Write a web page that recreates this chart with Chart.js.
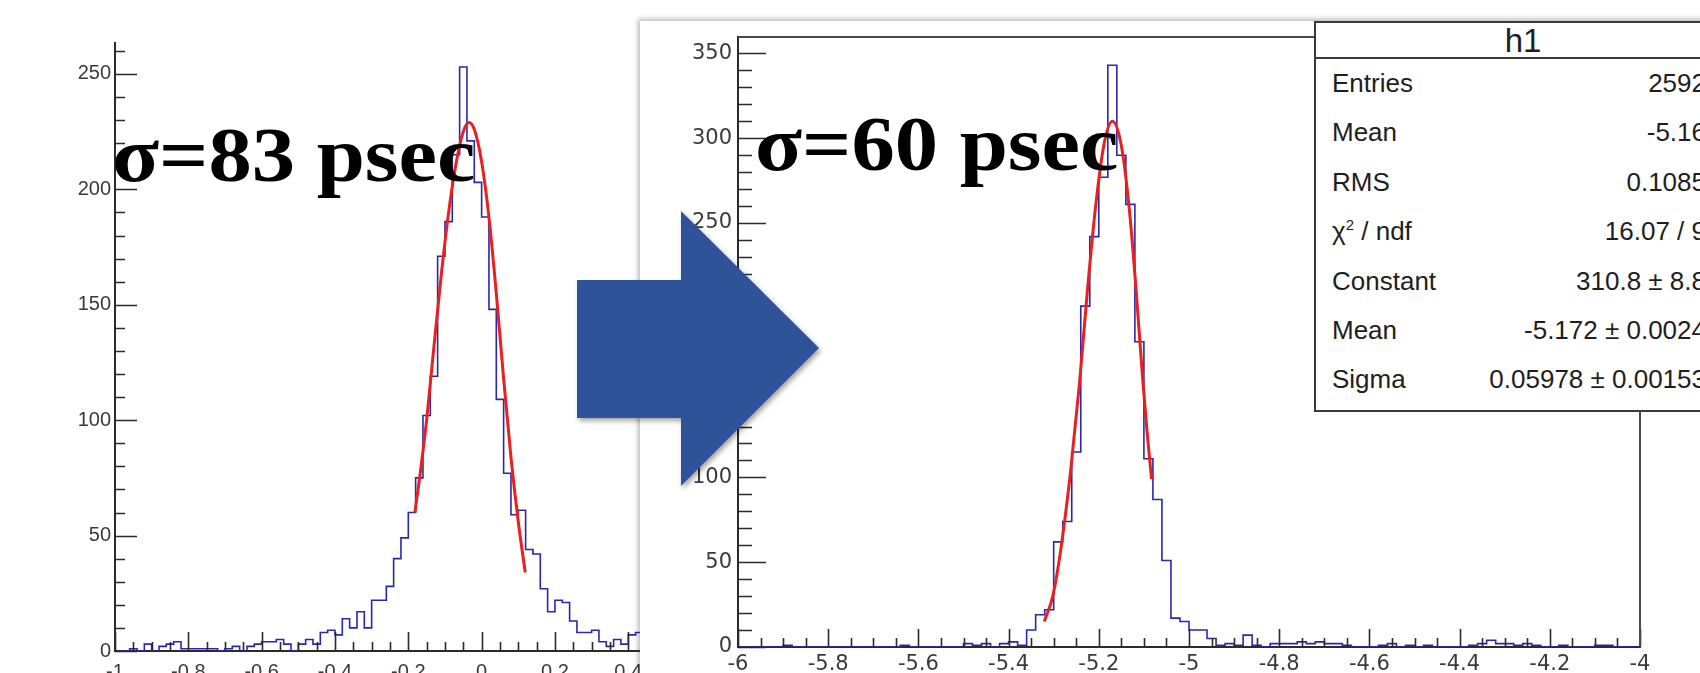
<!DOCTYPE html>
<html>
<head>
<meta charset="utf-8">
<script src="https://cdn.jsdelivr.net/npm/chart.js@4.4.0/dist/chart.umd.min.js"></script>
<style>
  html, body { margin: 0; padding: 0; background: #fff; }
  body { width: 1700px; height: 673px; overflow: hidden; position: relative; }
  #leftChart { position: absolute; left: 0; top: 0; z-index: 2; }
  #rightPanel { position: absolute; left: 640px; top: 21px; width: 1100px; height: 700px; background: #fff;
                box-shadow: -2px -2px 5px rgba(0,0,0,0.28); z-index: 1; }
  #rightChart { position: absolute; left: 0; top: 0; }
  #stats { position: absolute; left: 674px; top: 0; width: 418px; height: 391px; box-sizing: border-box;
           border: 2px solid #3a3a3a; background: #fff; font-family: "Liberation Sans", Arial, sans-serif;
           font-size: 26px; color: #1e1e1e; }
  #stats .head { height: 34px; line-height: 36px; font-size: 33px; text-align: center; border-bottom: 2px solid #3a3a3a; }
  #stats .row { height: 49.4px; line-height: 49.4px; position: relative; white-space: nowrap; }
  #stats .row .lab { position: absolute; left: 16px; }
  #stats .row .val { position: absolute; right: 24px; }
  #stats sup { font-size: 15px; vertical-align: 10px; line-height: 0; }
  .sigma { position: absolute; font-family: "Liberation Serif", "Times New Roman", serif; font-weight: bold;
           font-size: 78px; line-height: 78px; color: #000; white-space: nowrap; z-index: 3;
           transform: scaleX(1.11); transform-origin: 0 0; }
  #arrow { position: absolute; left: 0; top: 0; z-index: 4; }
</style>
</head>
<body>
<canvas id="leftChart" width="640" height="673"></canvas>
<div id="rightPanel">
  <canvas id="rightChart" width="1060" height="652"></canvas>
  <div id="stats"></div>
</div>
<div class="sigma" id="sigmaLeft" style="left:112px; top:116px;"></div>
<div class="sigma" id="sigmaRight" style="left:755px; top:105px;"></div>
<svg id="arrow" width="1700" height="673">
  <defs>
    <filter id="sh" x="-20%" y="-20%" width="140%" height="140%">
      <feDropShadow dx="2" dy="3" stdDeviation="2.5" flood-color="#000" flood-opacity="0.35"/>
    </filter>
  </defs>
  <polygon points="577,280 681,280 681,211 819,348 681,486 681,418 577,418" fill="#2F5299" filter="url(#sh)"/>
</svg>

<script>
// ---- left histogram (before) ----
const LEFT_BIN_START = -1;
const LEFT_BIN_WIDTH = 0.02;
const LEFT_COUNTS = [0, 0, 1, 0, 3, 0, 2, 3, 4, 1,
                     1, 1, 1, 1, 0, 1, 2, 0, 2, 3,
                     4, 4, 5, 3, 0, 3, 5, 3, 8, 9,
                     7, 14, 10, 17, 10, 22, 22, 28, 40, 49,
                     60, 75, 102, 119, 171, 186, 215, 253, 221, 203,
                     188, 148, 109, 77, 59, 61, 44, 42, 27, 17,
                     22, 21, 13, 8, 8, 9, 4, 2, 5, 3,
                     7, 8];
const LEFT_FIT_X = [-0.182, -0.17, -0.15, -0.13, -0.11, -0.09, -0.07, -0.05, -0.035, -0.02, 0, 0.02, 0.04, 0.06, 0.08, 0.10, 0.119];
const LEFT_FIT_Y = [60, 74, 100, 132, 163, 190, 211, 225, 229, 226, 212, 188, 155, 118, 84, 56, 34];
const LEFT_X_TICKS = [-1, -0.8, -0.6, -0.4, -0.2, 0, 0.2, 0.4];
const LEFT_Y_TICKS = [0, 50, 100, 150, 200, 250];

// ---- right histogram (after) ----
const RIGHT_BIN_START = -6;
const RIGHT_BIN_WIDTH = 0.02;
const RIGHT_COUNTS = [0, 0, 0, 0, 0, 1, 0, 0, 0, 0,
                      0, 0, 0, 0, 0, 0, 0, 0, 1, 0,
                      0, 0, 0, 0, 0, 2, 1, 2, 0, 2,
                      3, 1, 10, 19, 22, 62, 74, 115, 201, 242,
                      277, 343, 290, 261, 180, 111, 87, 51, 17, 15,
                      10, 10, 5, 1, 2, 1, 7, 1, 0, 2,
                      2, 2, 3, 2, 3, 2, 2, 1, 0, 0,
                      0, 1, 2, 0, 1, 0, 1, 0, 0, 0,
                      0, 1, 2, 4, 2, 2, 1, 2, 1, 0,
                      0, 1, 0, 0, 0, 1, 1, 0, 0, 0];
const RIGHT_FIT_X = [-5.321, -5.302, -5.284, -5.262, -5.243, -5.225, -5.207, -5.188, -5.170, -5.151, -5.133, -5.118, -5.103, -5.092, -5.083];
const RIGHT_FIT_Y = [15, 30, 58, 105, 155, 211, 260, 297, 310, 297, 260, 213, 159, 124, 99];
const RIGHT_X_TICKS = [-6, -5.8, -5.6, -5.4, -5.2, -5, -4.8, -4.6, -4.4, -4.2, -4];
const RIGHT_Y_TICKS = [0, 50, 100, 150, 200, 250, 300, 350];

// ---- stats box ----
const STATS_TITLE = 'h1';
const STATS_LABELS = ['Entries', 'Mean', 'RMS', 'χ<sup>2</sup> / ndf', 'Constant', 'Mean', 'Sigma'];
const STATS_VALUES = ['2592', '-5.16', '0.1085', '16.07 / 9', '310.8 ± 8.8', '-5.172 ± 0.0024', '0.05978 ± 0.00153'];

const SIGMA_TEXT = ['σ=83 psec', 'σ=60 psec'];

const HIST_BLUE = 'rgb(40,40,175)';
const FIT_RED = 'rgb(232,32,32)';
const AXIS_COLOR = '#2b2b2b';
const LABEL_COLOR = '#3a3a3a';

document.getElementById('sigmaLeft').textContent = SIGMA_TEXT[0];
document.getElementById('sigmaRight').textContent = SIGMA_TEXT[1];

var statsHtml = '<div class="head">' + STATS_TITLE + '</div>';
for (var i = 0; i < STATS_LABELS.length; i++) {
    statsHtml += '<div class="row"><span class="lab">' + STATS_LABELS[i] + '</span><span class="val">' + STATS_VALUES[i] + '</span></div>';
}
document.getElementById('stats').innerHTML = statsHtml;

// outline of a histogram, drawn as a stepped line (level held until the next edge)
function histPoints(start, width, counts) {
    var pts = [{ x: start, y: 0 }];
    counts.forEach(function(c, i) { pts.push({ x: start + i * width, y: c }); });
    var end = start + counts.length * width;
    pts.push({ x: end, y: counts[counts.length - 1] });
    pts.push({ x: end, y: 0 });
    return pts;
}

function fitPoints(xs, ys) {
    return xs.map(function(x, i) { return { x: x, y: ys[i] }; });
}

function fixBox(w, h) {
    return function(scale) {
        if (w !== null) scale.width = w;
        if (h !== null) scale.height = h;
        scale.paddingLeft = 0; scale.paddingRight = 0;
        scale.paddingTop = 0; scale.paddingBottom = 0;
    };
}

function setTicks(values) {
    return function(scale) {
        scale.ticks = values.map(function(v) { return { value: v }; });
    };
}

function fmt(v) {
    return String(Math.round(v * 10) / 10);
}

// ROOT style tick marks pointing into the frame, plus optional top/right frame
const rootTicks = {
    id: 'rootTicks',
    afterDatasetsDraw: function(chart, args, o) {
        var ctx = chart.ctx, a = chart.chartArea;
        var xs = chart.scales.x, ys = chart.scales.y;
        ctx.save();
        ctx.strokeStyle = AXIS_COLOR;
        ctx.lineWidth = 1.6;
        ctx.beginPath();
        var k, v, len, p;
        for (k = Math.ceil(ys.min / o.yMinor - 1e-6); k * o.yMinor <= ys.max + 1e-6; k++) {
            v = k * o.yMinor;
            len = Math.abs(v / o.yMajor - Math.round(v / o.yMajor)) < 1e-6 ? o.yMajorLen : o.yMinorLen;
            p = Math.round(ys.getPixelForValue(v)) + 0.5;
            ctx.moveTo(a.left, p); ctx.lineTo(a.left + len, p);
        }
        for (k = Math.ceil(xs.min / o.xMinor - 1e-6); k * o.xMinor <= xs.max + 1e-6; k++) {
            v = k * o.xMinor;
            len = Math.abs(v / o.xMajor - Math.round(v / o.xMajor)) < 1e-6 ? o.xMajorLen : o.xMinorLen;
            p = Math.round(xs.getPixelForValue(v)) + 0.5;
            ctx.moveTo(p, a.bottom); ctx.lineTo(p, a.bottom - len);
        }
        ctx.stroke();
        if (o.frame) {
            ctx.lineWidth = 2;
            ctx.strokeStyle = '#4a4a4a';
            ctx.beginPath();
            ctx.moveTo(a.left, a.top); ctx.lineTo(a.right, a.top); ctx.lineTo(a.right, a.bottom);
            ctx.stroke();
        }
        ctx.restore();
    }
};

function makeChart(id, cfg) {
    return new Chart(document.getElementById(id), {
        type: 'scatter',
        data: {
            datasets: [{
                data: histPoints(cfg.binStart, cfg.binWidth, cfg.counts),
                showLine: true, stepped: 'before', borderColor: HIST_BLUE, borderWidth: 1.6,
                pointRadius: 0, order: 2
            }, {
                data: fitPoints(cfg.fitX, cfg.fitY),
                showLine: true, cubicInterpolationMode: 'monotone', borderColor: FIT_RED, borderWidth: 3,
                pointRadius: 0, order: 1
            }]
        },
        options: {
            responsive: false,
            animation: false,
            devicePixelRatio: 1,
            layout: { padding: cfg.padding },
            plugins: { legend: { display: false }, tooltip: { enabled: false }, rootTicks: cfg.ticks },
            scales: {
                x: {
                    type: 'linear', min: cfg.xMin, max: cfg.xMax,
                    afterFit: fixBox(null, cfg.xHeight),
                    afterBuildTicks: setTicks(cfg.xTicks),
                    grid: { drawOnChartArea: false, drawTicks: false },
                    border: { display: true, color: AXIS_COLOR, width: 2 },
                    ticks: { autoSkip: false, maxRotation: 0, padding: cfg.xPad, color: LABEL_COLOR,
                             font: cfg.font, callback: fmt }
                },
                y: {
                    type: 'linear', min: 0, max: cfg.yMax,
                    afterFit: fixBox(cfg.yWidth, null),
                    afterBuildTicks: setTicks(cfg.yTicks),
                    grid: { drawOnChartArea: false, drawTicks: false },
                    border: { display: true, color: AXIS_COLOR, width: 2 },
                    ticks: { autoSkip: false, padding: cfg.yPad, color: LABEL_COLOR, font: cfg.font, callback: fmt }
                }
            }
        },
        plugins: [rootTicks]
    });
}

makeChart('leftChart', {
    binStart: LEFT_BIN_START, binWidth: LEFT_BIN_WIDTH, counts: LEFT_COUNTS,
    fitX: LEFT_FIT_X, fitY: LEFT_FIT_Y,
    xMin: -1, xMax: 0.432, yMax: 263.4,
    xTicks: LEFT_X_TICKS, yTicks: LEFT_Y_TICKS,
    padding: { top: 43, right: 0, bottom: 0, left: 0 },
    xHeight: 22, yWidth: 115, xPad: 9, yPad: 4,
    font: { family: 'Liberation Sans', size: 20 },
    ticks: { yMajor: 50, yMinor: 10, yMajorLen: 22, yMinorLen: 10,
             xMajor: 0.2, xMinor: 0.05, xMajorLen: 19, xMinorLen: 9, frame: false }
});

makeChart('rightChart', {
    binStart: RIGHT_BIN_START, binWidth: RIGHT_BIN_WIDTH, counts: RIGHT_COUNTS,
    fitX: RIGHT_FIT_X, fitY: RIGHT_FIT_Y,
    xMin: -6, xMax: -4, yMax: 359.7,
    xTicks: RIGHT_X_TICKS, yTicks: RIGHT_Y_TICKS,
    padding: { top: 16, right: 60, bottom: 0, left: 0 },
    xHeight: 26, yWidth: 98, xPad: 5, yPad: 6,
    font: { family: 'DejaVu Sans', size: 21 },
    ticks: { yMajor: 50, yMinor: 10, yMajorLen: 28, yMinorLen: 14,
             xMajor: 0.2, xMinor: 0.05, xMajorLen: 18, xMinorLen: 9, frame: true }
});
</script>
</body>
</html>
